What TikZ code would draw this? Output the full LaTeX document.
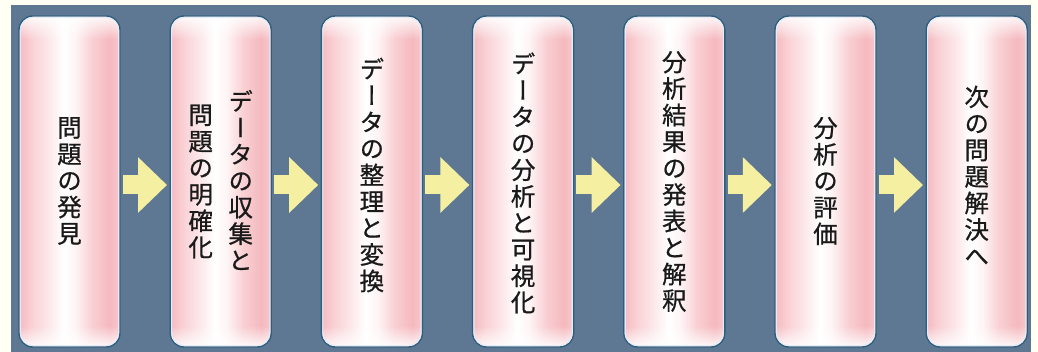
\documentclass[tikz,border=0pt]{standalone}
\usepackage{fontspec}
\newfontfamily\jp[RawFeature=+vert, FakeBold=0.7]{Noto Sans CJK JP}
\usetikzlibrary{arrows.meta,fadings}
\setlength{\lineskiplimit}{-50pt}
\definecolor{cream}{HTML}{FFFFF3}
\definecolor{slate}{HTML}{5E7792}
\definecolor{frame}{HTML}{2C5F7E}
\definecolor{innerline}{HTML}{E4ECF7}
\definecolor{pinkA}{HTML}{F5B9BF}
\definecolor{pinkB}{HTML}{F9D0D4}
\definecolor{pinkC}{HTML}{FCE6E8}
\definecolor{pinkD}{HTML}{FEF4F5}
\definecolor{pinkE}{HTML}{F7C8CC}
\definecolor{arrowc}{HTML}{F5EFA2}
\definecolor{ink}{HTML}{1A1A1A}
\pgfdeclarehorizontalshading{boxshade}{100bp}{color(0bp)=(pinkA); color(25bp)=(pinkA); color(31bp)=(pinkB); color(39bp)=(pinkC); color(47bp)=(white); color(53bp)=(pinkD); color(61bp)=(pinkB); color(70bp)=(pinkA); color(75bp)=(pinkE); color(100bp)=(pinkE)}
\tikzfading[name=glowdown, top color=transparent!0, bottom color=transparent!100]
\tikzfading[name=glowup, top color=transparent!100, bottom color=transparent!0]
\tikzset{
  box/.style={rectangle, rounded corners=14pt, minimum width=101pt, minimum height=331pt,
    draw=frame, line width=1.4pt, shading=boxshade, inner sep=0pt},
  jtext/.style={align=center, font=\jp\fontsize{24.5}{26.5}\selectfont, text=ink, inner sep=0pt},
  blockarrow/.style={draw=arrowc, line width=19pt, -{Triangle[length=29pt, width=54pt]},
    shorten <=2pt, shorten >=2.5pt},
  glow/.style={fill=white, fill opacity=0.85, rounded corners=12pt},
  inset/.style={draw=innerline, line width=1.1pt, rounded corners=12.5pt}
}
\begin{document}
\begin{tikzpicture}[x=1pt, y=-1pt]
\useasboundingbox (0,0) rectangle (1038,352);
\fill[cream] (0,0) rectangle (1038,352);
\fill[slate] (11,5) rectangle (1031,352);

\node[box] (b1) at (69.5,181.5) {};
\node[box] (b2) at (220.7,181.5) {};
\node[box] (b3) at (371.9,181.5) {};
\node[box] (b4) at (523.1,181.5) {};
\node[box] (b5) at (674.3,181.5) {};
\node[box] (b6) at (825.5,181.5) {};
\node[box] (b7) at (976.7,181.5) {};

\foreach \b in {b1,b2,b3,b4,b5,b6,b7}{
  \fill[glow, path fading=glowdown]
    ([shift={(2pt,-24pt)}]\b.north west) -- ([shift={(2pt,-2pt)}]\b.north west)
    -- ([shift={(-2pt,-2pt)}]\b.north east) -- ([shift={(-2pt,-24pt)}]\b.north east);
  \fill[glow, path fading=glowup]
    ([shift={(2pt,22pt)}]\b.south west) -- ([shift={(2pt,2pt)}]\b.south west)
    -- ([shift={(-2pt,2pt)}]\b.south east) -- ([shift={(-2pt,22pt)}]\b.south east);
  \draw[inset] ([shift={(2.1pt,-2.1pt)}]\b.north west) rectangle ([shift={(-2.1pt,2.1pt)}]\b.south east);
}

\draw[blockarrow] ([yshift=-3.5pt]b1.east) -- ([yshift=-3.5pt]b2.west);
\draw[blockarrow] ([yshift=-3.5pt]b2.east) -- ([yshift=-3.5pt]b3.west);
\draw[blockarrow] ([yshift=-3.5pt]b3.east) -- ([yshift=-3.5pt]b4.west);
\draw[blockarrow] ([yshift=-3.5pt]b4.east) -- ([yshift=-3.5pt]b5.west);
\draw[blockarrow] ([yshift=-3.5pt]b5.east) -- ([yshift=-3.5pt]b6.west);
\draw[blockarrow] ([yshift=-3.5pt]b6.east) -- ([yshift=-3.5pt]b7.west);

\node[jtext] (t1) at (69.5,181) {問\\題\\の\\発\\見};
\node[jtext] (t2a) at (240.7,180) {デ\\ー\\タ\\の\\収\\集\\と};
\node[jtext] (t2b) at (200.7,181.5) {問\\題\\の\\明\\確\\化};
\node[jtext] (t3) at (371.9,175) {デ\\ー\\タ\\の\\整\\理\\と\\変\\換};
\node[jtext] (t4) at (523.1,183) {デ\\ー\\タ\\の\\分\\析\\と\\可\\視\\化};
\node[jtext] (t5) at (674.3,181.5) {分\\析\\結\\果\\の\\発\\表\\と\\解\\釈};
\node[jtext] (t6) at (825.5,181) {分\\析\\の\\評\\価};
\node[jtext] (t7) at (976.7,175.5) {次\\の\\問\\題\\解\\決\\へ};
\end{tikzpicture}
\end{document}
